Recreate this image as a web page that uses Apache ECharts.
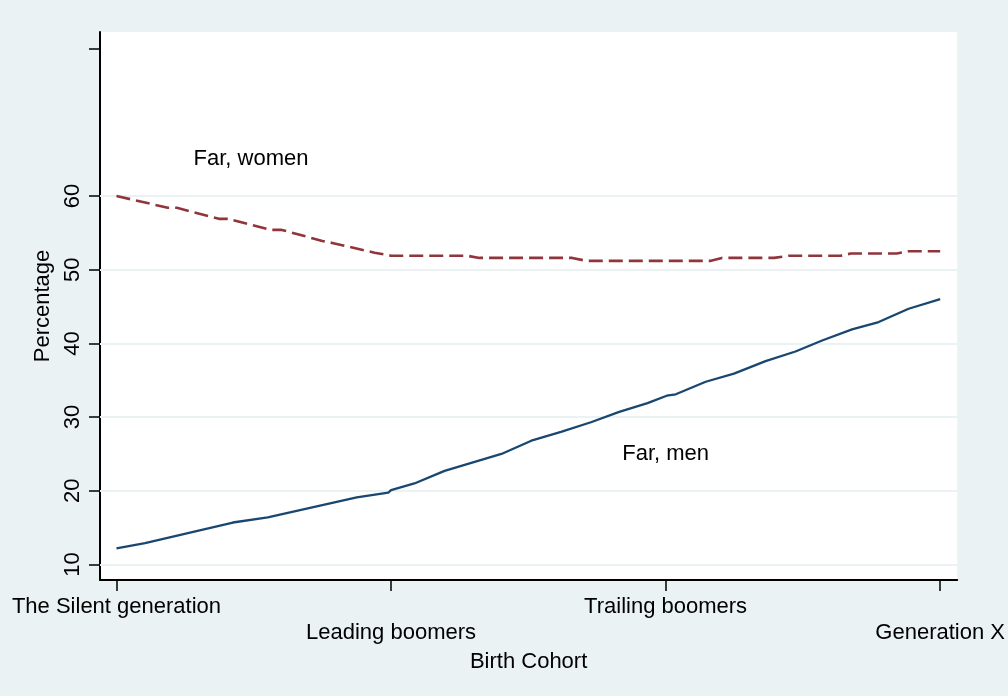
<!DOCTYPE html>
<html>
<head>
<meta charset="utf-8">
<script src="https://cdn.jsdelivr.net/npm/echarts@6/dist/echarts.min.js"></script>
<style>
  html, body { margin: 0; padding: 0; background: #EAF2F3; }
  #chart { width: 1008px; height: 696px; }
</style>
</head>
<body>
<div id="chart"></div>
<script>
// Birth cohorts along the x axis (positions 0..3)
const cohorts = ['The Silent generation', 'Leading boomers', 'Trailing boomers', 'Generation X'];
const cohortPos = [0, 1, 2, 3];

// y axis ticks / labels / grid lines
const yTickValues = [10, 20, 30, 40, 50, 60, 80];
const yLabelValues = [10, 20, 30, 40, 50, 60];
const yGridValues = [10, 20, 30, 40, 50, 60];

// Share (%) living far away, by cohort position
const farMen = [
  [0, 12.2], [0.104, 12.9], [0.424, 15.7], [0.551, 16.4], [0.875, 19.1],
  [0.99, 19.75], [1.0, 20.1], [1.085, 21.0], [1.195, 22.7], [1.402, 25.0],
  [1.511, 26.8], [1.619, 28.0], [1.728, 29.3], [1.831, 30.7], [1.934, 31.9],
  [2.004, 32.9], [2.037, 33.1], [2.146, 34.8], [2.249, 35.9], [2.364, 37.6],
  [2.473, 38.9], [2.570, 40.4], [2.679, 41.9], [2.776, 42.9], [2.885, 44.7],
  [3.0, 46.0]
];
const farWomen = [
  [0, 60.0], [0.187, 58.4], [0.220, 58.4], [0.373, 56.9], [0.405, 56.9],
  [0.562, 55.4], [0.602, 55.4], [0.75, 53.9], [0.79, 53.6], [0.94, 52.3],
  [1.0, 51.9], [1.275, 51.9], [1.322, 51.6], [1.66, 51.6], [1.711, 51.2],
  [2.165, 51.2], [2.205, 51.6], [2.395, 51.6], [2.449, 51.9], [2.638, 51.9],
  [2.675, 52.2], [2.842, 52.2], [2.885, 52.5], [3.0, 52.5]
];

// Line annotations
const noteText = ['Far, women', 'Far, men'];
const noteX = [0.49, 2.0];
const noteY = [65, 25];

const FONT = "'Liberation Sans', Arial, Helvetica, sans-serif";
const FS = 22;

const chart = echarts.init(document.getElementById('chart'), null, { renderer: 'canvas' });

chart.setOption({
  animation: false,
  backgroundColor: '#EAF2F3',
  textStyle: { fontFamily: FONT, color: '#000' },
  grid: {
    left: 100, top: 32, right: 50, bottom: 116,
    show: true, backgroundColor: '#FFFFFF', borderWidth: 0
  },
  xAxis: {
    type: 'value',
    min: -0.06, max: 3.062,
    name: 'Birth Cohort',
    nameLocation: 'middle',
    nameGap: 61,
    nameTextStyle: { fontFamily: FONT, fontSize: FS, color: '#000', verticalAlign: 'top' },
    axisLine: { show: true, onZero: false, lineStyle: { color: '#000', width: 2 } },
    axisTick: { show: true, customValues: cohortPos, length: 11, lineStyle: { color: '#000', width: 1.5 } },
    axisLabel: {
      customValues: cohortPos,
      margin: 14,
      fontFamily: FONT, fontSize: FS, color: '#000',
      lineHeight: 26,
      verticalAlign: 'top',
      formatter: function (v) {
        const i = Math.round(v);
        return i % 2 === 1 ? '\n' + cohorts[i] : cohorts[i];
      }
    },
    splitLine: { show: false }
  },
  yAxis: {
    type: 'value',
    min: 7.9, max: 82.25,
    name: 'Percentage',
    nameLocation: 'middle',
    nameGap: 42,
    nameRotate: 90,
    nameTextStyle: { fontFamily: FONT, fontSize: FS, color: '#000' },
    axisLine: { show: true, onZero: false, lineStyle: { color: '#000', width: 2 } },
    axisTick: { show: true, customValues: yTickValues, length: 11, lineStyle: { color: '#000', width: 1.5 } },
    axisLabel: {
      customValues: yLabelValues,
      rotate: 90,
      margin: 16,
      fontFamily: FONT, fontSize: FS, color: '#000'
    },
    splitLine: { show: false }
  },
  series: [
    {
      name: 'Far, men',
      type: 'line',
      data: farMen,
      symbol: 'none',
      z: 3,
      lineStyle: { color: '#1A476F', width: 2.3 },
      markLine: {
        silent: true,
        symbol: ['none', 'none'],
        label: { show: false },
        lineStyle: { color: '#EAF2F3', width: 2, type: 'solid' },
        data: yGridValues.map(v => ({ yAxis: v })),
        z: 1
      }
    },
    {
      name: 'Far, women',
      type: 'line',
      data: farWomen,
      symbol: 'none',
      z: 3,
      lineStyle: { color: '#90353B', width: 2.6, type: [14, 6] }
    },
    {
      name: 'notes',
      type: 'scatter',
      symbolSize: 0,
      silent: true,
      itemStyle: { opacity: 1 },
      data: noteText.map((t, i) => ({ value: [noteX[i], noteY[i]], name: t })),
      label: {
        show: true,
        position: [0, 0],
        align: 'center',
        verticalAlign: 'middle',
        formatter: p => p.name,
        fontFamily: FONT, fontSize: FS, color: '#000',
        textBorderWidth: 0
      }
    }
  ]
});
</script>
</body>
</html>
